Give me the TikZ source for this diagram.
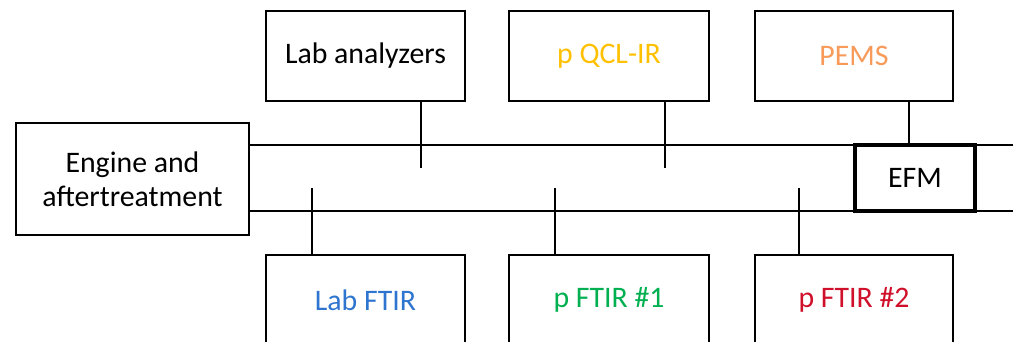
\documentclass[tikz,border=0pt]{standalone}
\usepackage{fontspec}
\setmainfont{Carlito}
\definecolor{cblue}{HTML}{2E75D0}
\definecolor{cgold}{HTML}{FFC000}
\definecolor{corange}{HTML}{F79A5A}
\definecolor{cgreen}{HTML}{00B050}
\definecolor{cred}{HTML}{D0102A}
\begin{document}
\begin{tikzpicture}[x=1pt,y=-1pt,
  box/.style={draw, line width=1.5pt, fill=white, inner sep=0pt, minimum height=90pt, font=\fontsize{29.8}{34}\selectfont},
  wire/.style={line width=1.5pt}]
\useasboundingbox (0,0) rectangle (1013,342);
\clip (0,0) rectangle (1013,342);
% nodes
\node[box, minimum width=233pt, minimum height=112pt, align=center] (eng) at (132.5,179) {Engine and\\aftertreatment};
\node[box, minimum width=199pt] (lab) at (365.5,56) {Lab analyzers};
\node[box, minimum width=200pt, text=cgold] (qcl) at (609,56) {p QCL-IR};
\node[box, minimum width=198pt, text=corange] (pems) at (854,56) {PEMS};
\node[box, minimum width=199pt, text=cblue] (ftir) at (365.5,300) {Lab FTIR};
\node[box, minimum width=200pt, text=cgreen] (ftira) at (609,300) {p FTIR \#1};
\node[box, minimum width=198pt, text=cred] (ftirb) at (854,300) {p FTIR \#2};
% line ends
\coordinate (tr) at (1013,145);
\coordinate (br) at (1013,211);
\coordinate (labend) at (421,168);
\coordinate (qclend) at (665,168);
\coordinate (ftirend) at (312,188);
\coordinate (ftiraend) at (555,188);
\coordinate (ftirbend) at (799,188);
% exhaust lines
\draw[wire] (eng.east |- tr) -- (tr);
\draw[wire] (eng.east |- br) -- (br);
% stubs
\draw[wire] (lab.south -| labend) -- (labend);
\draw[wire] (qcl.south -| qclend) -- (qclend);
\draw[wire] (ftir.north -| ftirend) -- (ftirend);
\draw[wire] (ftira.north -| ftiraend) -- (ftiraend);
\draw[wire] (ftirb.north -| ftirbend) -- (ftirbend);
% EFM
\node[draw, line width=4pt, fill=white, minimum width=120pt, minimum height=66pt, inner sep=0pt, font=\fontsize{29.8}{34}\selectfont] (efm) at (915,178) {EFM};
\draw[wire] (pems.south -| 909,0) -- (efm.north -| 909,0);
\end{tikzpicture}
\end{document}
